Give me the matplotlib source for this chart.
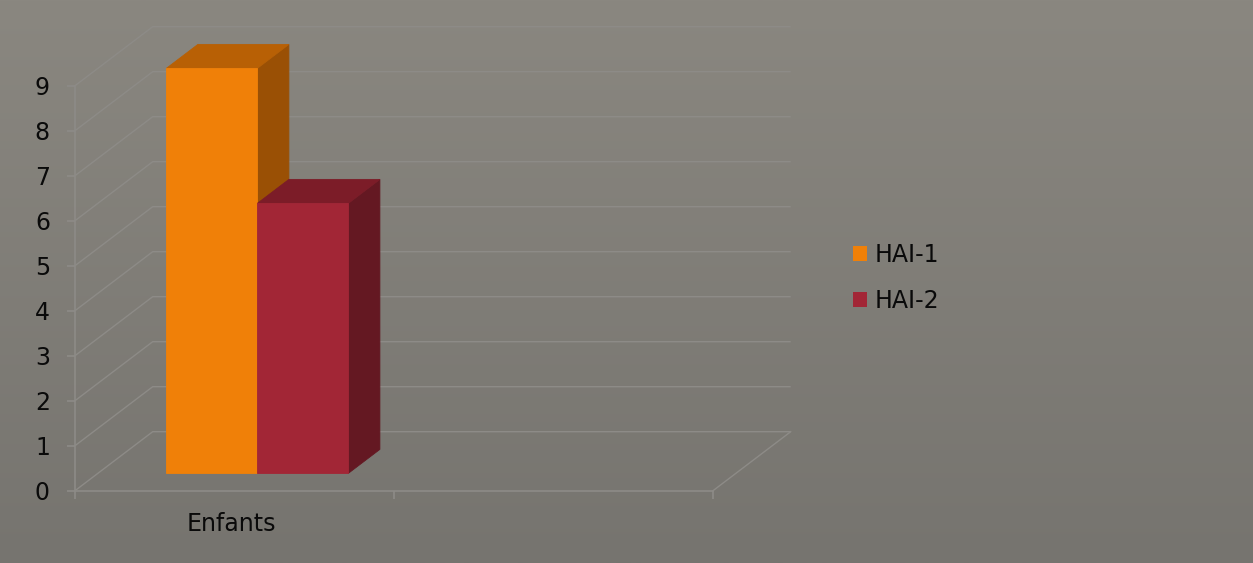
import numpy as np
import matplotlib
matplotlib.use("Agg")
import matplotlib.pyplot as plt
from matplotlib.patches import Polygon, Patch

# ---- data ----
categories = ["Enfants"]
series_names = ["HAI-1", "HAI-2"]
values_hai1 = [9]
values_hai2 = [6]
y_ticks = list(range(0, 10))

# ---- style ----
front_colors = ["#F08008", "#A22636"]
top_colors = ["#B86005", "#7C1C28"]
side_colors = ["#9A5005", "#641822"]
grid_c = "#8d8b87"
text_c = "#0a0a0a"
plt.rcParams["font.family"] = ["DejaVu Sans"]

W, H, DPI = 1253, 563, 100
fig = plt.figure(figsize=(W / DPI, H / DPI), dpi=DPI)

# vertical background gradient
bg = fig.add_axes([0, 0, 1, 1], zorder=-10)
ramp = np.linspace(0, 1, 256)[:, None, None]
c_top = np.array([138, 135, 128]) / 255
c_bot = np.array([118, 116, 111]) / 255
bg.imshow(c_top + (c_bot - c_top) * ramp, aspect="auto", extent=[0, 1, 0, 1], origin="upper")
bg.set_axis_off()

# plotting area: one unit on x = one category slot, one unit on y = one value step
n_slots = 2
px_slot, px_unit = 319.0, 45.0
left_px, zero_px, right_px, top_px = 75.0, 490.7, 800.0, 20.0
ax = fig.add_axes([left_px / W, (H - zero_px) / H,
                   (right_px - left_px) / W, (zero_px - top_px) / H])
ax.set_xlim(0, (right_px - left_px) / px_slot)
ax.set_ylim(0, (zero_px - top_px) / px_unit)
ax.patch.set_alpha(0)

# oblique depth offset of the back wall
depth_x = 77.7 / px_slot
depth_y = 59.0 / px_unit

# side wall + back wall gridlines
for v in y_ticks:
    ax.plot([0, depth_x, n_slots + depth_x], [v, v + depth_y, v + depth_y],
            color=grid_c, lw=1.0, zorder=1, solid_capstyle="butt")
# right edge of the floor
ax.plot([n_slots, n_slots + depth_x], [0, depth_y], color=grid_c, lw=1.0, zorder=1)

# 3D bars
series = [values_hai1, values_hai2]
bar_w = 91.0 / px_slot
f0, f1 = 0.295, 0.70
ox0, oy0 = f0 * depth_x, f0 * depth_y
ox1, oy1 = f1 * depth_x, f1 * depth_y
for i, cat in enumerate(categories):
    center = i + 0.5
    for s, vals in enumerate(series):
        v = vals[i]
        x0 = center - bar_w * len(series) / 2 + s * bar_w
        x1 = x0 + bar_w
        side = [(x1 + ox0, oy0), (x1 + ox1, oy1), (x1 + ox1, v + oy1), (x1 + ox0, v + oy0)]
        top = [(x0 + ox0, v + oy0), (x1 + ox0, v + oy0), (x1 + ox1, v + oy1), (x0 + ox1, v + oy1)]
        front = [(x0 + ox0, oy0), (x1 + ox0, oy0), (x1 + ox0, v + oy0), (x0 + ox0, v + oy0)]
        z = 3 + 3 * s
        ax.add_patch(Polygon(side, closed=True, facecolor=side_colors[s],
                             edgecolor=side_colors[s], lw=0.6, zorder=z))
        ax.add_patch(Polygon(top, closed=True, facecolor=top_colors[s],
                             edgecolor=top_colors[s], lw=0.6, zorder=z + 1))
        ax.add_patch(Polygon(front, closed=True, facecolor=front_colors[s],
                             edgecolor=front_colors[s], lw=0.6, zorder=z + 2))

# axes
for sp in ["top", "right"]:
    ax.spines[sp].set_visible(False)
for sp in ["left", "bottom"]:
    ax.spines[sp].set_color(grid_c)
    ax.spines[sp].set_linewidth(1.2)
ax.spines["left"].set_bounds(0, y_ticks[-1])
ax.spines["bottom"].set_bounds(0, n_slots)

ax.set_yticks(y_ticks)
ax.set_yticklabels([str(t) for t in y_ticks])
ax.tick_params(axis="y", direction="out", length=6, width=1.2, color=grid_c,
               pad=12, labelsize=17, labelcolor=text_c)

ax.set_xticks(range(n_slots + 1))
ax.set_xticklabels([])
ax.tick_params(axis="x", which="major", direction="out", length=6, width=1.2, color=grid_c)
ax.set_xticks([i + 0.49 for i in range(len(categories))], categories, minor=True)
ax.tick_params(axis="x", which="minor", length=0, pad=15, labelsize=17, labelcolor=text_c)

# legend
handles = [Patch(facecolor=c, edgecolor="none") for c in front_colors]
fig.legend(handles, series_names, loc="center left",
           bbox_to_anchor=(853 / W, 1 - 278 / H), frameon=False,
           fontsize=17, labelcolor=text_c, handlelength=0.6, handleheight=0.6,
           handletextpad=0.3, labelspacing=0.92, borderaxespad=0, borderpad=0)

fig.savefig("out.png", dpi=DPI)
